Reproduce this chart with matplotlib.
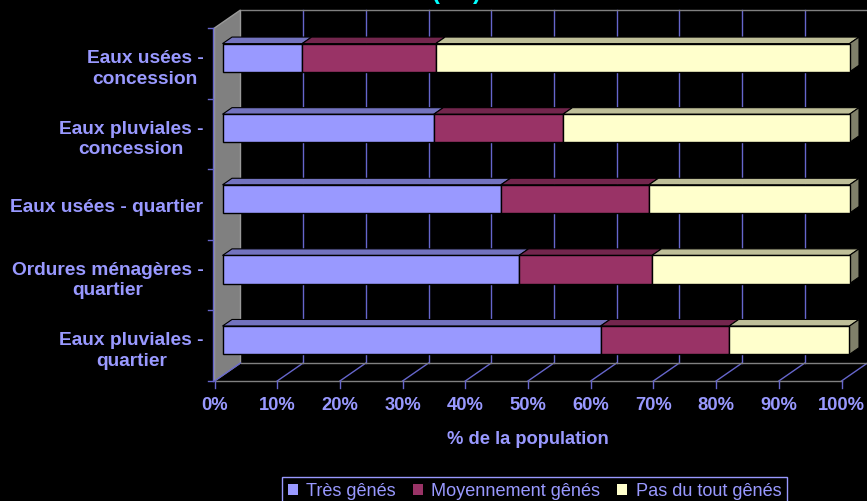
import numpy as np
import matplotlib
matplotlib.use("Agg")
import matplotlib.pyplot as plt
from matplotlib.patches import Polygon, Patch

# ---------------- data ----------------
categories = ["Eaux usées -\nconcession", "Eaux pluviales -\nconcession",
              "Eaux usées - quartier", "Ordures ménagères -\nquartier",
              "Eaux pluviales -\nquartier"]
series_names = ["Très gênés", "Moyennement gênés", "Pas du tout gênés"]
tres_genes = [12.7, 33.7, 44.4, 47.3, 60.3]
moyennement_genes = [21.3, 20.6, 23.6, 21.2, 20.5]
pas_du_tout_genes = [66.0, 45.7, 32.0, 31.5, 19.2]
x_ticks = [0, 10, 20, 30, 40, 50, 60, 70, 80, 90, 100]
x_tick_labels = ["0%", "10%", "20%", "30%", "40%", "50%", "60%", "70%", "80%", "90%", "100%"]
x_label = "% de la population"

# ---------------- style ----------------
plt.rcParams["font.family"] = ["Liberation Sans", "DejaVu Sans"]
TXT = "#9999ff"
GRID = "#6666cc"
EDGE_GRAY = "#808080"
front_cols = ["#9999ff", "#993366", "#ffffcc"]
top_cols = ["#7373bf", "#73264d", "#bfbf99"]
side_cols = ["#4d4d80", "#4d1a33", "#80806a"]

W, H = 867, 501
fig = plt.figure(figsize=(W / 100, H / 100), dpi=100, facecolor="black")
ax = fig.add_axes([214.5 / W, 1 - 381 / H, 627 / W, 353 / H])
ax.set_facecolor("black")
n = len(categories)
ax.set_xlim(0, 100)
ax.set_ylim(0, n)
ax.axis("off")

pos = ax.get_position()
axw, axh = pos.width * W, pos.height * H
ppx = axw / 100.0      # pixels per x unit
ppy = axh / n          # pixels per y unit
DX, DY = 26.0, 18.0    # depth vector (pixels)


def dz(z):
    return DX * z / ppx, DY * z / ppy


def P(x, y, z):
    ox, oy = dz(z)
    return (x + ox, y + oy)


# left wall
lw_poly = Polygon([P(0, 0, 0), P(0, n, 0), P(0, n, 1), P(0, 0, 1)], closed=True,
                  fc="#808080", ec="#9a9a9a", lw=1, zorder=1, clip_on=False)
ax.add_patch(lw_poly)

# back wall gridlines
for t in x_ticks[1:]:
    a, b = P(t, 0, 1), P(t, n, 1)
    ax.plot([a[0], b[0]], [a[1], b[1]], color=GRID, lw=1, zorder=1, clip_on=False)
a, b = P(0, n, 1), P(100, n, 1)
ax.plot([a[0], b[0]], [a[1], b[1]], color=EDGE_GRAY, lw=1, zorder=1, clip_on=False)

# floor
for t in x_ticks:
    a, b = P(t, 0, 0), P(t, 0, 1)
    ax.plot([a[0], b[0]], [a[1], b[1]], color=GRID, lw=1, zorder=1, clip_on=False)
for z in (0, 1):
    a, b = P(0, 0, z), P(100, 0, z)
    ax.plot([a[0], b[0]], [a[1], b[1]], color=EDGE_GRAY, lw=1, zorder=1, clip_on=False)

# x ticks (below floor front)
tick_len = 7 / ppy
for t, lab in zip(x_ticks, x_tick_labels):
    ax.plot([t, t], [0, -tick_len], color=GRID, lw=1, zorder=1, clip_on=False)
    ax.text(t, -24 / ppy, lab, color=TXT, fontsize=13.2, fontweight="bold",
            ha="center", va="center")
ax.text(50, -58 / ppy, x_label, color=TXT, fontsize=13.2, fontweight="bold",
        ha="center", va="center")

# y axis line + ticks
ax.plot([-1.5 / ppx, -1.5 / ppx], [0, n], color=GRID, lw=1, zorder=2, clip_on=False)
for k in range(n + 1):
    ax.plot([-1.5 / ppx, -7 / ppx], [k, k], color=GRID, lw=1, zorder=2, clip_on=False)

# bars
zf, zb = 8 / 26.0, 17.5 / 26.0
bar_h = 0.40
series = [tres_genes, moyennement_genes, pas_du_tout_genes]
ypos = np.arange(n)[::-1] + 0.5
ofx, ofy = dz(zf)
lefts = np.zeros(n)
for s, vals in enumerate(series):
    vals = np.asarray(vals)
    ax.barh(ypos + ofy, vals, left=lefts + ofx, height=bar_h, color=front_cols[s],
            edgecolor="black", linewidth=1, zorder=4, clip_on=False)
    for i in range(n):
        x0, x1 = lefts[i], lefts[i] + vals[i]
        yt = ypos[i] + bar_h / 2
        yb = ypos[i] - bar_h / 2
        top = Polygon([P(x0, yt, zf), P(x1, yt, zf), P(x1, yt, zb), P(x0, yt, zb)],
                      closed=True, fc=top_cols[s], ec="black", lw=0.8, zorder=3,
                      clip_on=False)
        ax.add_patch(top)
        if s == len(series) - 1:
            side = Polygon([P(x1, yb, zf), P(x1, yt, zf), P(x1, yt, zb), P(x1, yb, zb)],
                           closed=True, fc=side_cols[s], ec="black", lw=0.8, zorder=3,
                           clip_on=False)
            ax.add_patch(side)
    lefts = lefts + vals

# category labels
for i, lab in enumerate(categories):
    nlines = lab.count("\n") + 1
    shift = 2.5 + 3.0 * (nlines - 1)
    ax.text(-11 / ppx, ypos[i] - shift / ppy, lab, color=TXT, fontsize=13.8,
            fontweight="bold", ha="right", va="center", multialignment="center",
            linespacing=1.28)

# cut-off title fragment
fig.text(456 / W, 1 + 1.0 / H, "(     )", color="#00ffff", fontsize=17,
         fontweight="bold", ha="center", va="baseline")

# legend
handles = [Patch(facecolor=c, edgecolor="none", label=l) for c, l in zip(front_cols, series_names)]
leg = fig.legend(handles=handles, loc="center", bbox_to_anchor=(534.5 / W, 1 - 491 / H),
                 ncol=3, frameon=True, fancybox=False, facecolor="black", edgecolor="#9999ff",
                 fontsize=13.1, labelcolor=TXT, handlelength=0.55, handleheight=0.55,
                 handletextpad=0.45, columnspacing=0.95, borderpad=0.3, framealpha=1)
leg.get_frame().set_linewidth(1)

fig.savefig("out.png", dpi=100, facecolor="black")
